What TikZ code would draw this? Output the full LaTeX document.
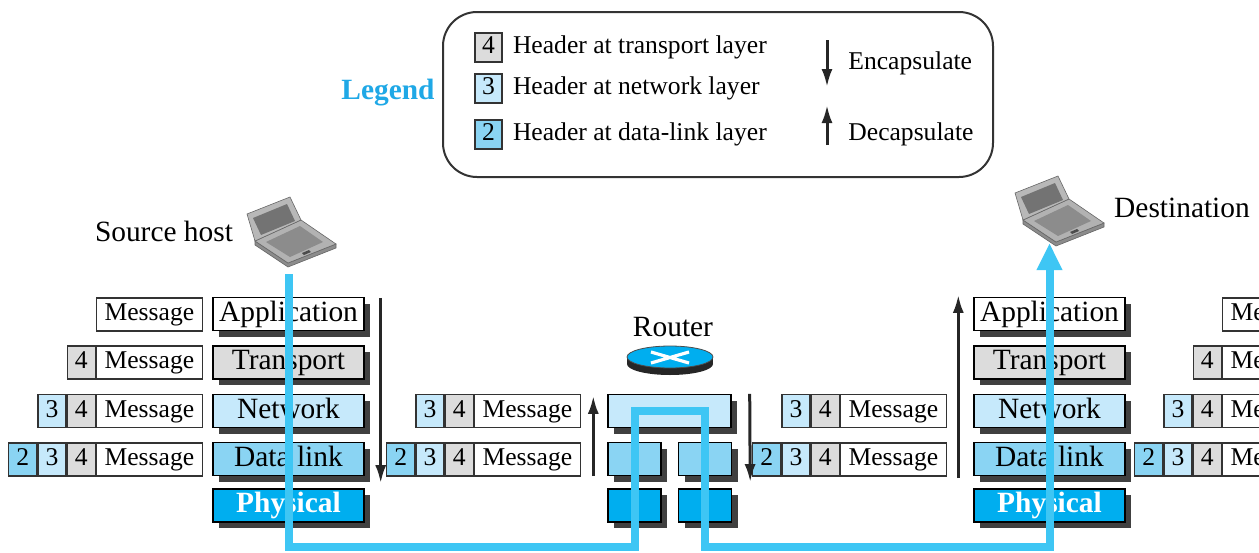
\documentclass[tikz,border=0pt]{standalone}
\usepackage{fontspec}
\setmainfont{Liberation Serif}
\usetikzlibrary{positioning,shadows,arrows.meta}
\definecolor{trgray}{HTML}{DCDCDC}
\definecolor{netblue}{HTML}{C6E9FB}
\definecolor{dlblue}{HTML}{8AD4F3}
\definecolor{phyblue}{HTML}{00AEEF}
\definecolor{wireblue}{HTML}{3EC6F4}
\definecolor{legblue}{HTML}{1FA8E6}
\colorlet{hdr4}{trgray}
\colorlet{hdr3}{netblue}
\colorlet{hdr2}{dlblue}
\newcommand{\lyrfont}{\fontsize{14.7}{16}\selectfont}
\newcommand{\msgfont}{\fontsize{12.8}{14}\selectfont}
\newcommand{\pkt}[4] {
    \node[msg,anchor=east] (#1-m) at ({#2}, {#3}) {Message};
    \foreach \h [remember=\h as \prev (initially m)] in {#4}
        \node[hdr=\h,left=0pt of #1-\prev] (#1-\h) {\h};
}
\newcommand{\laptop}[2] {
    \begin{scope}[shift={(#1,#2)},draw=black!60,line width=0.3pt]
        \filldraw[fill=black!45] (8,44) -- (41,66) -- (89,47) -- (89,51) -- (41,70) -- (8,48) -- cycle;
        \filldraw[fill=black!30] (8,44) -- (54,23) -- (89,47) -- (41,66) -- cycle;
        \fill[black!45] (19,45) -- (53,29) -- (76,45) -- (43,60) -- cycle;
        \fill[black!70] (55,56) -- (62,53) -- (64,55) -- (57,58) -- cycle;
        \filldraw[fill=black!28] (0,17) -- (43,0) -- (54,23) -- (8,44) -- cycle;
        \fill[black!55] (6,21) -- (40,7) -- (48,24) -- (14,38) -- cycle;
    \end{scope}
}
\tikzset{
    layer/.style={
        draw,
        line width=0.7pt,
        minimum width=75.5pt,
        minimum height=16.5pt,
        inner sep=0pt,
        text height=10pt,
        text depth=3pt,
        font=\lyrfont,
        general shadow={fill=black!75,shadow xshift=3pt,shadow yshift=-3pt}
    },
    cell/.style={
        draw=black!80,
        line width=0.6pt,
        minimum height=16.5pt,
        inner sep=0pt,
        text height=8.6pt,
        text depth=2.6pt,
        font=\msgfont
    },
    msg/.style={cell,fill=white,minimum width=53pt},
    hdr/.style={cell,fill=hdr#1,minimum width=14pt},
    legtext/.style={font=\msgfont,inner sep=0pt,anchor=west},
    encap/.style={draw=black!85,line width=1.5pt,-{Latex[length=9pt,width=5.5pt]}},
    wire/.style={wireblue,line width=4pt}
}

\begin{document}
\begin{tikzpicture}[x=0.5pt,y=-0.5pt]
    \useasboundingbox (0,0) rectangle (1259,552);
    \clip (0,0) rectangle (1259,552);
    % legend
    \draw[black!80,line width=1pt,rounded corners=17pt] (443,12) rectangle (993,177);
    \node[font=\lyrfont\bfseries,text=legblue] (legend) at (388,93) {Legend};
    \node[hdr=4,minimum height=14.5pt,minimum width=13.5pt] (l4) at (488.5,47.5) {4};
    \node[hdr=3,minimum height=14.5pt,minimum width=13.5pt] (l3) at (488.5,88.5) {3};
    \node[hdr=2,minimum height=14.5pt,minimum width=13.5pt] (l2) at (488.5,134.5) {2};
    \node[legtext,right=5pt of l4] (l4t) {Header at transport layer};
    \node[legtext,right=5pt of l3] (l3t) {Header at network layer};
    \node[legtext,right=5pt of l2] (l2t) {Header at data-link layer};
    \node[legtext] (enc) at (848,63) {Encapsulate};
    \node[legtext] (dec) at (848,134) {Decapsulate};
    \draw[encap] ([xshift=-10.5pt,yshift=11.5pt]enc.west) -- ([xshift=-10.5pt,yshift=-12pt]enc.west);
    \draw[encap] ([xshift=-10.5pt,yshift=-5.5pt]dec.west) -- ([xshift=-10.5pt,yshift=14.5pt]dec.west);

    % hosts
    \laptop{247}{197}
    \laptop{1015}{176}
    \node[font=\lyrfont] (srclbl) at (164,231) {Source host};
    \node[font=\lyrfont] (dstlbl) at (1182,208) {Destination};
    \coordinate (src) at (288.5,274);
    \coordinate (dst) at (1049.5,243);
    \coordinate (bot) at (0,547);

    % layer stacks
    \foreach \p/\x in {s/288.5,d/1049.5} {
        \foreach \n/\t/\f/\y in {app/Application/white/314,trn/Transport/trgray/362.5,
                                 net/Network/netblue/411,dl/Data link/dlblue/459}
            \node[layer,fill=\f] (\p-\n) at (\x,\y) {\t};
        \node[layer,fill=phyblue,text=white,font=\lyrfont\bfseries] (\p-phy) at (\x,505.5) {Physical};
    }

    % router
    \node[font=\lyrfont] (rlbl) at (673,327) {Router};
    \fill[black!85] (670,364) ellipse (21.5pt and 5.5pt);
    \fill[black!85] (627,357) rectangle (713,364);
    \filldraw[fill=phyblue,draw=black!70,line width=0.4pt] (670,357) ellipse (21.5pt and 5.5pt);
    \draw[white,line width=1.6pt] (651,352) -- (689,363) (651,363) -- (689,352);
    \node[layer,fill=netblue,minimum width=61.5pt] (r-net) at (669.5,411) {};
    \node[layer,fill=dlblue,minimum width=26.5pt] (r-dll) at (634.5,459) {};
    \node[layer,fill=dlblue,minimum width=26.5pt] (r-dlr) at (705,459) {};
    \node[layer,fill=phyblue,minimum width=26.5pt] (r-phyl) at (634.5,505.5) {};
    \node[layer,fill=phyblue,minimum width=26.5pt] (r-phyr) at (705,505.5) {};

    % packets
    \node[msg,anchor=east] (s0-m) at (203,314.5) {Message};
    \pkt{s1}{203}{362.5}{4}
    \pkt{s2}{203}{411}{4,3}
    \pkt{s3}{203}{459.5}{4,3,2}
    \pkt{a2}{581}{411}{4,3}
    \pkt{a3}{581}{459.5}{4,3,2}
    \pkt{b2}{947}{411}{4,3}
    \pkt{b3}{947}{459.5}{4,3,2}
    \node[msg,anchor=east] (d0-m) at (1329,314.5) {Message};
    \pkt{d1}{1329}{362.5}{4}
    \pkt{d2}{1329}{411}{4,3}
    \pkt{d3}{1329}{459.5}{4,3,2}

    % encapsulate / decapsulate
    \draw[encap] ([xshift=8pt,yshift=-0.5pt]s-app.north east) -- ([xshift=8pt,yshift=-3.5pt]s-dl.south east);
    \draw[encap] ([xshift=-7pt]r-dll.south west) -- ([xshift=-7pt,yshift=-1pt]r-net.north west);
    \draw[encap] ([xshift=9pt]r-net.north east) -- ([xshift=9pt,yshift=-3pt]r-dlr.south east);
    \draw[encap] ([xshift=-7.5pt,yshift=-1pt]d-dl.south west) -- ([xshift=-7.5pt,yshift=1pt]d-app.north west);

    % path of the data
    \draw[wire,-{Triangle[length=13.5pt,width=12pt]}] (src) -- (src |- bot) -- (r-dll |- bot)
        -- (r-dll |- r-net) -- (r-dlr |- r-net) -- (r-dlr |- bot) -- (dst |- bot) -- (dst);
\end{tikzpicture}
\end{document}
